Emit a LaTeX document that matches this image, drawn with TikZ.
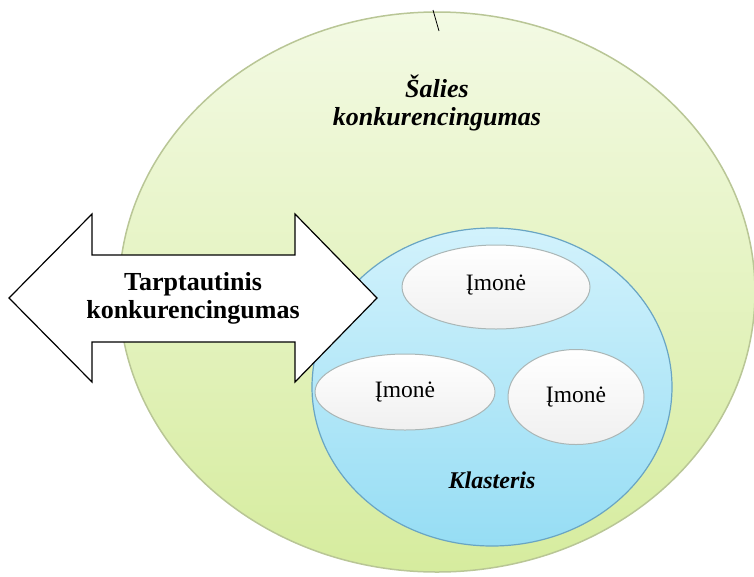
\documentclass[tikz,border=0pt]{standalone}
\usepackage{fontspec}
\setmainfont{Liberation Serif}
\usetikzlibrary{shapes.geometric}
\definecolor{outTop}{RGB}{243,250,228}
\definecolor{outBot}{RGB}{214,236,158}
\definecolor{outLine}{RGB}{185,198,150}
\definecolor{bluTop}{RGB}{210,242,252}
\definecolor{bluBot}{RGB}{150,221,244}
\definecolor{bluLine}{RGB}{105,165,195}
\definecolor{firmLine}{RGB}{170,182,182}
\tikzset{
  firm/.style={ellipse, draw=firmLine, line width=1pt, top color=white, bottom color=white!94!black, inner sep=0pt, font=\rmfamily\fontsize{23.5}{25}\selectfont},
  bigtxt/.style={align=center, font=\rmfamily\bfseries\fontsize{26}{28}\selectfont},
}
\begin{document}
\begin{tikzpicture}[x=1pt,y=-1pt]
\useasboundingbox (0,0) rectangle (754,576);
% outer country ellipse
\node[ellipse, draw=outLine, line width=1.5pt, top color=outTop, bottom color=outBot,
      minimum width=636pt, minimum height=560pt, inner sep=0pt] (country) at (437,292) {};
% small tick line at top
\coordinate (t1) at (433,10);
\coordinate (t2) at (439,31);
\draw[line width=0.8pt] (t1) -- (t2);
\node[align=center, font=\rmfamily\bfseries\itshape\fontsize{26}{28}\selectfont] (salies) at (437,103) {Šalies\\konkurencingumas};
% cluster
\node[ellipse, draw=bluLine, line width=1.2pt, top color=bluTop, bottom color=bluBot,
      minimum width=360pt, minimum height=318pt, inner sep=0pt] (cluster) at (492,387) {};
\node[firm, minimum width=188pt, minimum height=84pt] (f1) at (496,287) {\raisebox{9pt}{Įmonė}};
\node[firm, minimum width=180pt, minimum height=76pt] (f2) at (405,392) {\raisebox{-4pt}{Įmonė}};
\node[firm, minimum width=136pt, minimum height=95pt] (f3) at (576,397) {\raisebox{4pt}{Įmonė}};
\node[font=\rmfamily\bfseries\itshape\fontsize{24}{26}\selectfont] (klast) at (492,480) {Klasteris};
% double arrow
\draw[fill=white, line width=1.2pt, line join=miter]
  (9,298) -- (92,214) -- (92,255) -- (295,255) -- (295,214) -- (377,298)
  -- (295,382) -- (295,342) -- (92,342) -- (92,382) -- cycle;
\node[bigtxt] (tarpt) at (193,298) {Tarptautinis\\konkurencingumas};
\end{tikzpicture}
\end{document}
